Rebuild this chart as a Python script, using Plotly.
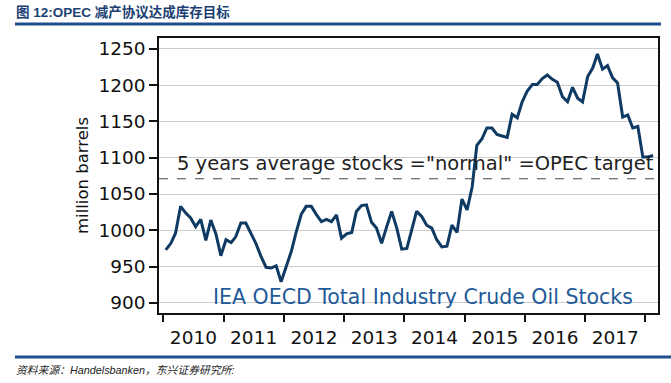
import pandas as pd
import plotly.graph_objects as go

start_month = "2010-01-01"
stocks = [973, 982, 996, 1033, 1024, 1017, 1005, 1015, 986, 1014,
          995, 965, 987, 983, 991, 1010, 1010, 996, 982, 964,
          949, 948, 951, 929, 950, 971, 997, 1022, 1033, 1033,
          1022, 1012, 1015, 1012, 1021, 989, 995, 997, 1026, 1034,
          1035, 1011, 1003, 982, 1005, 1026, 1003, 974, 975, 1000,
          1026, 1019, 1007, 1003, 987, 977, 978, 1007, 997, 1043,
          1028, 1060, 1117, 1126, 1141, 1141, 1132, 1130, 1128, 1160,
          1155, 1177, 1192, 1201, 1201, 1209, 1214, 1208, 1204, 1184,
          1177, 1197, 1182, 1177, 1212, 1224, 1243, 1222, 1227, 1210,
          1203, 1156, 1159, 1141, 1143, 1101, 1101, 1103]
target_level = 1071
y_ticks = [900, 950, 1000, 1050, 1100, 1150, 1200, 1250]

dates = pd.date_range(start_month, periods=len(stocks), freq="MS") + pd.Timedelta(days=15)

title_text = "图 12:OPEC 减产协议达成库存目标"
source_text = "资料来源：Handelsbanken，东兴证券研究所:"
target_text = '5 years average stocks ="normal" =OPEC target'
series_text = "IEA OECD Total Industry Crude Oil Stocks"

fig = go.Figure()
fig.add_trace(go.Scatter(x=dates, y=stocks, mode="lines",
                         line=dict(color="#0f3a63", width=3),
                         hoverinfo="skip", showlegend=False))

L, R, T, B = 159, 13, 38, 70
W, H = 671, 383
pw, ph = W - L - R, H - T - B

def px(x):
    return (x - L) / pw

def py(y):
    return (H - B - y) / ph

fig.add_shape(type="line", xref="paper", yref="y", x0=0, x1=1,
              y0=target_level, y1=target_level,
              line=dict(color="#444444", width=1, dash="dash"))

# header / footer rules
fig.add_shape(type="line", xref="paper", yref="paper", x0=px(15), x1=px(661),
              y0=py(24), y1=py(24), line=dict(color="#1c4f8c", width=3))
fig.add_shape(type="line", xref="paper", yref="paper", x0=px(15), x1=px(671),
              y0=py(357), y1=py(357), line=dict(color="#1c4f8c", width=3))

fig.add_annotation(xref="paper", yref="paper", x=px(14), y=py(12),
                   xanchor="left", yanchor="middle", showarrow=False,
                   text="<b>" + title_text + "</b>",
                   font=dict(family="Liberation Sans, Noto Sans CJK SC", size=13.5, color="#1b3f73"))
fig.add_annotation(xref="paper", yref="paper", x=px(14), y=py(370),
                   xanchor="left", yanchor="middle", showarrow=False,
                   text="<i>" + source_text + "</i>",
                   font=dict(family="Liberation Sans, Noto Sans CJK SC", size=10.8, color="#222222"))
fig.add_annotation(xref="paper", yref="paper", x=px(175), y=py(163),
                   xanchor="left", yanchor="middle", showarrow=False,
                   text=target_text,
                   font=dict(family="DejaVu Sans", size=19.5, color="#222222"))
fig.add_annotation(xref="paper", yref="paper", x=px(423), y=py(297),
                   xanchor="center", yanchor="middle", showarrow=False,
                   text=series_text,
                   font=dict(family="DejaVu Sans", size=20.5, color="#1f5a99"))

fig.update_layout(
    width=W, height=H,
    margin=dict(l=L, r=R, t=T, b=B),
    paper_bgcolor="white", plot_bgcolor="white",
    font=dict(family="DejaVu Sans", color="#111111"),
    xaxis=dict(type="date", range=["2009-12-06", "2018-03-18"],
               tick0="2010-01-01", dtick="M12", tickformat="%Y",
               ticklabelmode="period", ticks="outside", ticklen=7,
               tickcolor="#111111", tickwidth=1.5, automargin=False,
               showgrid=False, showline=True, linecolor="#111111", linewidth=1.5,
               mirror=True, tickfont=dict(size=18.5), zeroline=False),
    yaxis=dict(range=[886, 1265], tickvals=y_ticks, ticks="outside", ticklen=8,
               tickcolor="#111111", tickwidth=1.5, automargin=False,
               showgrid=True, gridcolor="#cccccc", gridwidth=1.2,
               showline=True, linecolor="#111111", linewidth=1.5, mirror=True,
               tickfont=dict(size=18.5), zeroline=False,
               title=dict(text="million barrels", font=dict(size=16.5), standoff=6)),
)

fig.write_html("out.html", config={"displayModeBar": False},
               post_script="document.body.style.margin='0px';document.body.style.overflow='hidden';")
